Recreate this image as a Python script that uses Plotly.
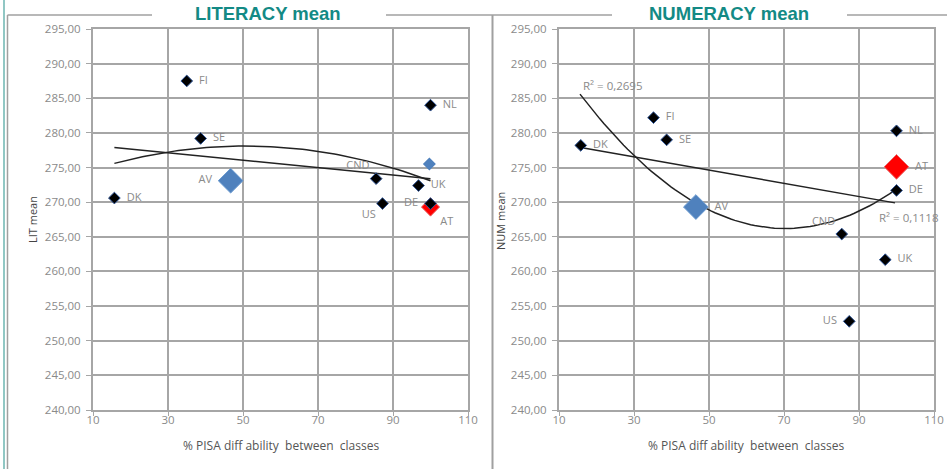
import numpy as np
import plotly.graph_objects as go

# ---------------- data ----------------
lit_countries = ["DK", "FI", "SE", "CND", "US", "UK", "DE", "NL"]
lit_x = [15.7, 35.0, 38.7, 85.5, 87.2, 96.8, 100.0, 100.0]
lit_y = [270.6, 287.5, 279.2, 273.4, 269.8, 272.4, 269.8, 284.0]
lit_pos = ["middle right", "middle right", "middle right", "top left",
           "bottom left", "middle right", "middle left", "middle right"]
lit_av_x, lit_av_y = [46.7], [273.1]
lit_at_x, lit_at_y = [100.0], [269.3]
lit_extra_x, lit_extra_y = [99.7], [275.5]

num_countries = ["DK", "FI", "SE", "CND", "US", "UK", "DE", "NL"]
num_x = [15.8, 35.2, 38.7, 85.4, 87.4, 97.0, 100.0, 100.0]
num_y = [278.2, 282.2, 279.0, 265.4, 252.8, 261.7, 271.7, 280.3]
num_pos = ["middle right", "middle right", "middle right", "top left",
           "middle left", "middle right", "middle right", "middle right"]
num_av_x, num_av_y = [46.5], [269.3]
num_at_x, num_at_y = [100.0], [275.1]

# trend lines
lit_lin_x, lit_lin_y = [15.7, 100.0], [277.9, 273.4]
lit_poly_x, lit_poly_y = [15.7, 49.2, 100.0], [275.6, 278.1, 273.1]
num_lin_x, num_lin_y = [15.8, 99.6], [277.9, 269.9]
num_poly_x, num_poly_y = [15.6, 69.8, 99.2], [285.6, 266.2, 271.6]

r2_labels = ["R² = 0,0712", "R² = 0,1051", "R² = 0,2695", "R² = 0,1118"]

x_ticks = [10, 30, 50, 70, 90, 110]

W, H = 947, 469
FONT = "Open Sans"
GRAY = "#8a8a8a"
GRID = "#a6a6a6"
BLUE = "#4F81BD"
TEAL = "#138a85"
LBL = 11


def px(x):
    return x / W


def py(y):
    return 1 - y / H


def pad_labels(names, positions):
    out = []
    for n, p in zip(names, positions):
        if p.endswith("right"):
            out.append("  " + n)
        elif p == "middle left":
            out.append(n + "  ")
        else:
            out.append(n)
    return out


fig = go.Figure()


def add_panel(xa, ya, cx, cy, cpos, names, av_x, av_y, at_x, at_y, at_size,
              lin_x, lin_y, poly_x, poly_y):
    c1 = np.polyfit(lin_x, lin_y, 1)
    xs = np.linspace(lin_x[0], lin_x[-1], 50)
    fig.add_trace(go.Scatter(x=xs, y=np.polyval(c1, xs), mode="lines",
                             line=dict(color="#222222", width=1.5),
                             xaxis=xa, yaxis=ya, showlegend=False, hoverinfo="skip"))
    c2 = np.polyfit(poly_x, poly_y, 2)
    xs = np.linspace(poly_x[0], poly_x[-1], 80)
    fig.add_trace(go.Scatter(x=xs, y=np.polyval(c2, xs), mode="lines",
                             line=dict(color="#222222", width=1.5),
                             xaxis=xa, yaxis=ya, showlegend=False, hoverinfo="skip"))
    av_pos = "middle left" if xa == "x" else "middle right"
    fig.add_trace(go.Scatter(x=av_x, y=av_y, mode="markers+text",
                             text=pad_labels(["AV"], [av_pos]),
                             textposition=av_pos,
                             textfont=dict(family=FONT, size=LBL, color=GRAY),
                             marker=dict(symbol="diamond", size=19, color=BLUE,
                                         line=dict(color="#6a9ad0", width=1)),
                             xaxis=xa, yaxis=ya, showlegend=False))
    at_pos = "bottom right" if xa == "x" else "middle right"
    fig.add_trace(go.Scatter(x=at_x, y=at_y, mode="markers+text",
                             text=["AT"] if xa == "x" else pad_labels(["AT"], [at_pos]),
                             textposition=at_pos,
                             textfont=dict(family=FONT, size=LBL, color=GRAY),
                             marker=dict(symbol="diamond", size=at_size, color="#ff0000",
                                         line=dict(color="#e87070", width=1)),
                             xaxis=xa, yaxis=ya, showlegend=False))
    fig.add_trace(go.Scatter(x=cx, y=cy, mode="markers+text",
                             text=pad_labels(names, cpos),
                             textposition=cpos,
                             textfont=dict(family=FONT, size=LBL, color=GRAY),
                             marker=dict(symbol="diamond", size=9, color="#000000",
                                         line=dict(color="#2f5597", width=1)),
                             xaxis=xa, yaxis=ya, showlegend=False))


fig.add_trace(go.Scatter(x=lit_extra_x, y=lit_extra_y, mode="markers",
                         marker=dict(symbol="diamond", size=10, color=BLUE),
                         xaxis="x", yaxis="y", showlegend=False))

add_panel("x", "y", lit_x, lit_y, lit_pos, lit_countries, lit_av_x, lit_av_y,
          lit_at_x, lit_at_y, 14, lit_lin_x, lit_lin_y, lit_poly_x, lit_poly_y)
add_panel("x2", "y2", num_x, num_y, num_pos, num_countries, num_av_x, num_av_y,
          num_at_x, num_at_y, 19, num_lin_x, num_lin_y, num_poly_x, num_poly_y)

xax = dict(range=[10, 110], tickvals=x_ticks, showgrid=True, gridcolor=GRID, gridwidth=2,
           showline=True, linecolor=GRID, linewidth=2, mirror=True, automargin=False,
           ticks="outside", ticklen=4, tickcolor=GRID, zeroline=False,
           ticklabelstandoff=-6,
           tickfont=dict(family=FONT, size=11.5, color=GRAY))
yax = dict(range=[240, 295], dtick=5, tickformat=".2f", showgrid=True, gridcolor=GRID,
           gridwidth=2, showline=True, linecolor=GRID, linewidth=2, mirror=True,
           automargin=False, ticks="outside", ticklen=5, tickcolor=GRID, zeroline=False,
           ticklabelstandoff=3,
           tickfont=dict(family=FONT, size=11.5, color=GRAY))

fig.update_layout(
    width=W, height=H, margin=dict(l=0, r=0, t=0, b=0, pad=0, autoexpand=False),
    paper_bgcolor="white", plot_bgcolor="white", separators=", ",
    xaxis=dict(xax, domain=[px(93), px(468)], anchor="y"),
    yaxis=dict(yax, domain=[py(410), py(29)], anchor="x"),
    xaxis2=dict(xax, domain=[px(559), px(934)], anchor="y2"),
    yaxis2=dict(yax, domain=[py(410), py(29)], anchor="x2"),
)

C = dict(xanchor="center", yanchor="middle", showarrow=False, xref="paper", yref="paper")
ann = []
ann.append(dict(C, x=px(268), y=py(13), text="<b>LITERACY mean</b>",
                font=dict(family="Liberation Sans", size=18.5, color=TEAL)))
ann.append(dict(C, x=px(729), y=py(13), text="<b>NUMERACY mean</b>",
                font=dict(family="Liberation Sans", size=18.5, color=TEAL)))
for xc in (281, 746):
    ann.append(dict(C, x=px(xc), y=py(445), text="% PISA diff ability  between  classes",
                    font=dict(family=FONT, size=12, color="#555555")))
ann.append(dict(C, x=px(32), y=py(219), text="LIT mean", textangle=-90,
                font=dict(family=FONT, size=11, color="#444444")))
ann.append(dict(C, x=px(500), y=py(221), text="NUM mean", textangle=-90,
                font=dict(family=FONT, size=11, color="#444444")))
r2_pos = [("x", "y", 8.4, 280.0), ("x", "y", 6.5, 273.7),
          ("x2", "y2", 15.9, 286.9), ("x2", "y2", 94.8, 267.75)]
for lab, (xr, yr, xv, yv) in zip(r2_labels, r2_pos):
    ann.append(dict(x=xv, y=yv, xref=xr, yref=yr, text=lab, showarrow=False,
                    xanchor="left", yanchor="middle",
                    font=dict(family=FONT, size=11.5, color=GRAY)))
fig.update_layout(annotations=ann)

LC = "#a0a0a0"
shapes = [
    dict(type="line", xref="paper", yref="paper", x0=px(4), x1=px(4), y0=0, y1=1,
         line=dict(color="#6cb5b0", width=1.5)),
    dict(type="line", xref="paper", yref="paper", x0=px(7.5), x1=px(7.5), y0=0, y1=py(15),
         line=dict(color=LC, width=1.5)),
    dict(type="line", xref="paper", yref="paper", x0=px(7.5), x1=px(152), y0=py(15), y1=py(15),
         line=dict(color=LC, width=1.5)),
    dict(type="line", xref="paper", yref="paper", x0=px(386), x1=px(612), y0=py(15), y1=py(15),
         line=dict(color=LC, width=1.5)),
    dict(type="line", xref="paper", yref="paper", x0=px(847), x1=1, y0=py(15), y1=py(15),
         line=dict(color=LC, width=1.5)),
    dict(type="line", xref="paper", yref="paper", x0=px(492.5), x1=px(492.5), y0=0, y1=py(15),
         line=dict(color=LC, width=2)),
]
fig.update_layout(shapes=shapes)

fig.write_html("out.html", config={"displayModeBar": False},
               post_script="document.body.style.margin='0';document.body.style.overflow='hidden';")
